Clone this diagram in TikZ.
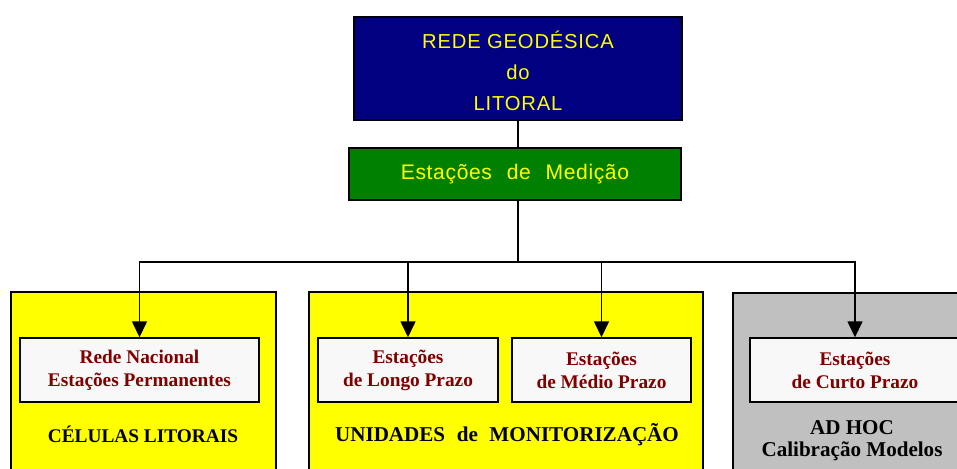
\documentclass[tikz,border=0pt]{standalone}
\usepackage{fontspec}
\setmainfont{Liberation Serif}
\setsansfont{Liberation Sans}
\usetikzlibrary{arrows.meta,positioning}
\definecolor{TopNavy}{HTML}{000080}
\definecolor{MedGreen}{HTML}{008000}
\definecolor{CellYellow}{HTML}{FFFF00}
\definecolor{AdHocGray}{HTML}{C0C0C0}
\definecolor{InnerWhite}{HTML}{F8F8F8}
\definecolor{TextRed}{HTML}{800000}
\newcommand{\wgap}{\hspace{0.55em}}
\tikzset{
  outerbox/.style={draw=black,line width=.8pt,anchor=center,inner sep=0pt},
  stationbox/.style={draw=black,line width=.8pt,fill=InnerWhite,minimum height=1.28cm,
    align=center,text=TextRed,font=\fontsize{11}{13}\selectfont\bfseries},
  grouplabel/.style={align=center,font=\fontsize{12}{12.5}\selectfont\bfseries},
  feed/.style={line width=.8pt,-{Triangle[length=.32cm,width=.3cm]}}
}
\begin{document}
\begin{tikzpicture}[x=0.02cm,y=-0.02cm]
        \useasboundingbox (0,0) rectangle (957,468);
        % titulo e estacoes
        \node[outerbox,fill=TopNavy,minimum width=6.56cm,minimum height=2.06cm,
              text=CellYellow,align=center,
              font=\sffamily\fontsize{11.5}{17.6}\selectfont\addfontfeature{LetterSpace=4}]
              (geo) at (518,68.5) {\rule{0pt}{12.5pt}REDE GEODÉSICA\\do\\LITORAL};
        \node[outerbox,fill=MedGreen,minimum width=6.64cm,minimum height=1.04cm,
              text=CellYellow,font=\sffamily\fontsize{12}{14}\selectfont\addfontfeature{LetterSpace=3}]
              (med) at (515,174) {Estações\hspace{0.7em}de\hspace{0.7em}Medição};
        \draw[line width=.8pt] (geo.south) -- (geo.south |- med.north);
        % grupos
        \node[outerbox,fill=CellYellow,minimum width=5.3cm,minimum height=3.8cm] (cel) at (143.5,387) {};
        \node[outerbox,fill=CellYellow,minimum width=7.88cm,minimum height=3.8cm] (uni) at (506,387) {};
        \node[outerbox,fill=AdHocGray,minimum width=4.94cm,minimum height=3.8cm] (adhoc) at (856.5,388) {};
        \node[stationbox,minimum width=4.78cm] (rede) at (139.5,370) {Rede Nacional\\Estações Permanentes};
        \node[stationbox,minimum width=3.6cm] (longo) at (408,370) {Estações\\de Longo Prazo};
        \node[stationbox,minimum width=3.58cm] (medio) at (601.5,370) {Estações\\de Médio Prazo};
        \node[stationbox,minimum width=4.2cm] (curto) at (855,370) {Estações\\de Curto Prazo};
        \node[grouplabel,font=\fontsize{11}{13}\selectfont\bfseries] (lblcel) at (143,434) {CÉLULAS LITORAIS};
        \node[grouplabel] (lbluni) at (507,435) {UNIDADES\wgap de\wgap MONITORIZAÇÃO};
        \node[grouplabel] (lbladhoc) at (852,441) {AD HOC\\Calibração Modelos};
        % ligacoes
        \coordinate (bus) at (518,262);
        \draw[line width=.8pt] (bus |- med.south) -- (bus);
        \foreach \dest in {rede,longo,medio,curto}
          \draw[feed] (bus) -| (\dest.north);
      \end{tikzpicture}
\end{document}
